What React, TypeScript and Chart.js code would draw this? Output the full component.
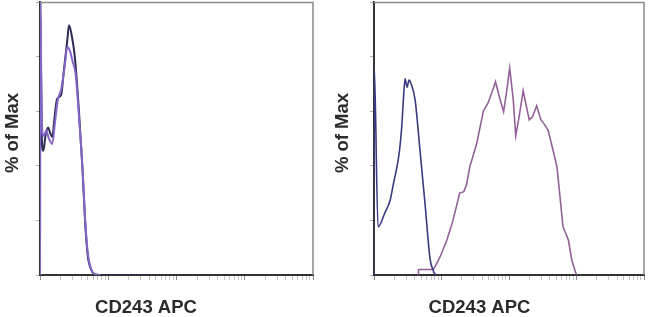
import React, { useEffect, useRef } from 'react';
import { Chart, registerables } from 'chart.js';

Chart.register(...registerables);

// ---- data (x in decades of the log axis, y in % of Max) ----
const leftDarkX = [0, 0.005, 0.015, 0.03, 0.05, 0.08, 0.12, 0.15, 0.18, 0.21, 0.25, 0.31, 0.35, 0.40, 0.425, 0.47, 0.51, 0.56, 0.59, 0.62, 0.66, 0.70, 0.75, 0.80, 0.88, 1.6];
const leftDarkY = [0, 100, 75, 48, 45.5, 51, 54, 52, 50.5, 57, 64.5, 66, 75, 86, 91.5, 87, 80, 64, 52, 40, 20, 7, 2, 0.3, 0, 0];

const leftPurpleX = [0, 0.005, 0.02, 0.035, 0.06, 0.09, 0.13, 0.18, 0.22, 0.26, 0.31, 0.36, 0.40, 0.44, 0.48, 0.52, 0.56, 0.60, 0.63, 0.66, 0.70, 0.75, 0.80, 0.88];
const leftPurpleY = [0, 100, 70, 52, 51, 53, 50, 48, 56, 64, 68, 76, 83.5, 82, 78, 74, 62, 48, 36, 21, 8, 2, 0.3, 0];

const rightIsoX = [0, 0.003, 0.06, 0.16, 0.24, 0.29, 0.34, 0.38, 0.41, 0.435, 0.46, 0.49, 0.52, 0.55, 0.61, 0.68, 0.76, 0.83, 0.88, 0.91];
const rightIsoY = [0, 77, 17.6, 22.7, 27.5, 33.7, 39.6, 46, 54, 64, 72, 68.8, 71.4, 70, 64, 46, 25, 6, 1.5, 0];

const rightStainX = [0.655, 0.66, 0.88, 0.93, 0.98, 1.08, 1.17, 1.27, 1.33, 1.37, 1.42, 1.52, 1.62, 1.69, 1.77, 1.80, 1.86, 1.92, 1.97, 2.01, 2.06, 2.10, 2.15, 2.21, 2.26, 2.30, 2.35, 2.41, 2.47, 2.53, 2.58, 2.63, 2.71, 2.76, 2.80, 2.88, 2.93, 2.98, 3.0];
const rightStainY = [0, 2, 2, 4.3, 6.7, 12.8, 20, 30, 30.5, 33, 39.7, 48, 60, 63, 68.5, 70.8, 65, 59.8, 68, 75.8, 65, 51, 58, 67.5, 61.5, 56.8, 58, 62, 57, 55, 53, 48, 39.7, 27.5, 17.7, 12.8, 5.5, 1.5, 0];

const yTickValues = [0, 20, 40, 60, 80, 100];
const decades = [0, 1, 2, 3];
const xLabel = 'CD243 APC';
const yLabel = '% of Max';

const logTicks: number[] = [];
decades.forEach((d) => {
  for (let k = 1; k <= 9; k++) logTicks.push(d + Math.log10(k));
});
logTicks.push(4);

const pts = (xs: number[], ys: number[]) => xs.map((x, i) => ({ x, y: ys[i] }));

type PanelProps = {
  left: number;
  width: number;
  yAxisWidth: number;
  padRight: number;
  datasets: any[];
  yLabelX: number;
  xLabelX: number;
};

const FONT = 'bold 18.5px "Liberation Sans", Arial, sans-serif';

function Panel({ left, width, yAxisWidth, padRight, datasets, yLabelX, xLabelX }: PanelProps) {
  const ref = useRef<HTMLCanvasElement | null>(null);
  useEffect(() => {
    if (!ref.current) return;
    const framePlugin = {
      id: 'frameAndLabels',
      afterDraw(chart: any) {
        const { ctx, chartArea } = chart;
        ctx.save();
        ctx.strokeStyle = '#8a8a8a';
        ctx.lineWidth = 1.5;
        ctx.beginPath();
        ctx.moveTo(chartArea.left, chartArea.top + 0.5);
        ctx.lineTo(chartArea.right, chartArea.top + 0.5);
        ctx.lineTo(chartArea.right, chartArea.bottom);
        ctx.stroke();
        ctx.fillStyle = '#2b2b2b';
        ctx.font = FONT;
        ctx.textAlign = 'center';
        ctx.textBaseline = 'alphabetic';
        ctx.fillText(xLabel, xLabelX, 313);
        ctx.translate(yLabelX, 133);
        ctx.rotate(-Math.PI / 2);
        ctx.fillText(yLabel, 0, 0);
        ctx.restore();
      },
    };
    const chart = new Chart(ref.current, {
      type: 'line',
      data: { datasets },
      options: {
        animation: false,
        responsive: false,
        maintainAspectRatio: false,
        layout: { padding: { top: 2, right: padRight, left: 0, bottom: 0 } },
        plugins: { legend: { display: false }, tooltip: { enabled: false } },
        elements: { point: { radius: 0 } },
        scales: {
          x: {
            type: 'linear',
            min: 0,
            max: 4,
            afterBuildTicks: (s: any) => {
              s.ticks = logTicks.map((v) => ({ value: v }));
            },
            afterFit: (s: any) => {
              s.height = 42;
            },
            ticks: { display: false },
            grid: {
              drawOnChartArea: false,
              drawTicks: true,
              tickLength: 5,
              color: (c: any) =>
                c.tick && Math.abs(c.tick.value - Math.round(c.tick.value)) < 1e-6 ? '#8c8c8c' : '#c4c4c4',
            },
            border: { display: true, color: '#333333', width: 2 },
          },
          y: {
            min: 0,
            max: 100,
            afterBuildTicks: (s: any) => {
              s.ticks = yTickValues.map((v) => ({ value: v }));
            },
            afterFit: (s: any) => {
              s.width = yAxisWidth;
            },
            ticks: { display: false },
            grid: { drawOnChartArea: false, drawTicks: true, tickLength: 4, color: '#b0b0b0' },
            border: { display: true, color: '#333333', width: 2 },
          },
        },
      },
      plugins: [framePlugin],
    });
    return () => chart.destroy();
  }, []);
  return (
    <canvas
      ref={ref}
      width={width}
      height={317}
      style={{ position: 'absolute', left, top: 0, width, height: 317 }}
    />
  );
}

export default function App() {
  const leftSets = [
    { data: pts(leftPurpleX, leftPurpleY), borderColor: '#8466c8', borderWidth: 2, fill: false, cubicInterpolationMode: 'monotone' },
    { data: pts(leftDarkX, leftDarkY), borderColor: '#2e2d55', borderWidth: 2, fill: false, cubicInterpolationMode: 'monotone' },
  ];
  const rightSets = [
    { data: pts(rightIsoX, rightIsoY), borderColor: '#3a3a80', borderWidth: 1.6, fill: false, cubicInterpolationMode: 'monotone' },
    { data: pts(rightStainX, rightStainY), borderColor: '#93609a', borderWidth: 1.6, fill: false, tension: 0 },
  ];
  return (
    <div style={{ position: 'absolute', left: 0, top: 0, width: 650, height: 317, background: '#ffffff' }}>
      <Panel left={0} width={320} yAxisWidth={40} padRight={7} datasets={leftSets} yLabelX={17.5} xLabelX={146} />
      <Panel left={320} width={330} yAxisWidth={54} padRight={6} datasets={rightSets} yLabelX={28} xLabelX={159.5} />
    </div>
  );
}
